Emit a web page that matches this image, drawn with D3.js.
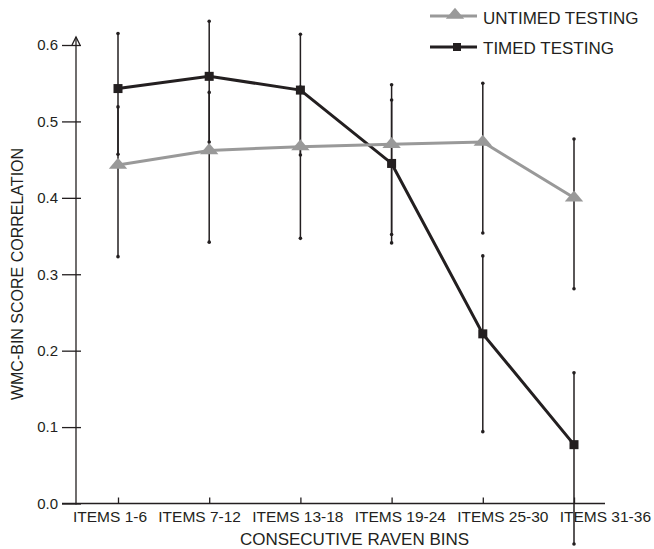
<!DOCTYPE html>
<html lang="en">
  <head>
    <meta charset="UTF-8" />
    <title>WMC-bin score correlation</title>
    <script src="https://cdn.jsdelivr.net/npm/d3@7"></script>
    <style>
      body {
        margin: 0;
        background-color: #fff;
      }
      svg {
        font-family: 'Liberation Sans', Arial, sans-serif;
        display: block;
      }
      .axis text {
        font-size: 15px;
        fill: #231f20;
      }
      .axis line,
      .axis path {
        stroke: #231f20;
        stroke-width: 1.3;
      }
    </style>
  </head>
  <body>
    <svg width="654" height="549"></svg>

    <script>
      const categories = ['ITEMS 1-6', 'ITEMS 7-12', 'ITEMS 13-18', 'ITEMS 19-24', 'ITEMS 25-30', 'ITEMS 31-36'];
      const untimed = [0.443, 0.462, 0.467, 0.47, 0.473, 0.4];
      const untimedLow = [0.323, 0.342, 0.347, 0.352, 0.354, 0.281];
      const untimedHigh = [0.519, 0.538, 0.545, 0.548, 0.55, 0.477];
      const timed = [0.543, 0.559, 0.541, 0.445, 0.222, 0.077];
      const timedLow = [0.457, 0.473, 0.456, 0.341, 0.094, -0.053];
      const timedHigh = [0.615, 0.631, 0.614, 0.528, 0.324, 0.171];
      const yTicks = [0, 0.1, 0.2, 0.3, 0.4, 0.5, 0.6];

      const svg = d3.select('svg');
      const ink = '#231f20';
      const grey = '#999999';

      const x = d3.scalePoint().domain(categories).range([118, 574]);
      const y = d3.scaleLinear().domain([0, 0.6]).range([503.5, 45]);

      // y axis
      const yAxis = svg
        .append('g')
        .attr('class', 'axis')
        .attr('transform', 'translate(76,0)')
        .call(
          d3.axisLeft(y).tickValues(yTicks).tickFormat(d3.format('.1f')).tickSizeInner(14).tickSizeOuter(0).tickPadding(4)
        );
      yAxis.select('.domain').remove();
      yAxis.selectAll('.tick line').attr('x1', 5);
      yAxis
        .append('line')
        .attr('x1', 0)
        .attr('x2', 0)
        .attr('y1', y(0) + 1)
        .attr('y2', 37);
      yAxis
        .append('path')
        .attr('d', 'M-4,45L0,37L4,45')
        .attr('fill', 'none');

      // x axis (ticks only, labels are laid out in a row below)
      const xAxis = svg
        .append('g')
        .attr('class', 'axis')
        .attr('transform', `translate(0,${y(0)})`)
        .call(d3.axisBottom(x).tickSizeInner(-6).tickSizeOuter(0).tickFormat(''));
      xAxis.select('.domain').remove();
      xAxis.append('line').attr('x1', 62).attr('x2', 605).attr('y1', 0).attr('y2', 0);

      // category labels flow left to right with a fixed gap, as in the original
      const labels = svg
        .append('g')
        .attr('font-size', 15.5)
        .attr('fill', ink)
        .selectAll('text')
        .data(categories)
        .join('text')
        .attr('y', 522)
        .text((d) => d);
      const widths = labels.nodes().map((n) => n.getComputedTextLength());
      const startX = 73;
      const endX = 651;
      const gap = (endX - startX - d3.sum(widths)) / (categories.length - 1);
      let cursor = startX;
      labels.attr('x', (d, i) => {
        const pos = cursor;
        cursor += widths[i] + gap;
        return pos;
      });

      // axis titles
      svg
        .append('text')
        .attr('x', 354.5)
        .attr('y', 545)
        .attr('text-anchor', 'middle')
        .attr('font-size', 17)
        .attr('fill', ink)
        .text('CONSECUTIVE RAVEN BINS');

      svg
        .append('text')
        .attr('transform', 'translate(23,274) rotate(-90)')
        .attr('text-anchor', 'middle')
        .attr('font-size', 16)
        .attr('fill', ink)
        .text('WMC-BIN SCORE CORRELATION');

      // error bars
      const bars = [];
      categories.forEach((c, i) => {
        bars.push({ c: c, lo: untimedLow[i], hi: untimedHigh[i] });
        bars.push({ c: c, lo: timedLow[i], hi: timedHigh[i] });
      });

      svg
        .append('g')
        .selectAll('line')
        .data(bars)
        .join('line')
        .attr('x1', (d) => x(d.c))
        .attr('x2', (d) => x(d.c))
        .attr('y1', (d) => y(d.lo))
        .attr('y2', (d) => y(d.hi))
        .attr('stroke', ink)
        .attr('stroke-width', 1.5);

      const caps = [];
      bars.forEach((b) => {
        caps.push({ c: b.c, v: b.lo });
        caps.push({ c: b.c, v: b.hi });
      });
      svg
        .append('g')
        .selectAll('circle')
        .data(caps)
        .join('circle')
        .attr('cx', (d) => x(d.c))
        .attr('cy', (d) => y(d.v))
        .attr('r', 1.8)
        .attr('fill', ink);

      // lines
      const line = d3
        .line()
        .x((d, i) => x(categories[i]))
        .y((d) => y(d));

      svg
        .append('path')
        .datum(timed)
        .attr('d', line)
        .attr('fill', 'none')
        .attr('stroke', ink)
        .attr('stroke-width', 3);

      svg
        .append('path')
        .datum(untimed)
        .attr('d', line)
        .attr('fill', 'none')
        .attr('stroke', grey)
        .attr('stroke-width', 3);

      const tri = d3.symbol().type(d3.symbolTriangle).size(70);

      svg
        .append('g')
        .selectAll('path')
        .data(untimed)
        .join('path')
        .attr('d', tri)
        .attr('transform', (d, i) => `translate(${x(categories[i])},${y(d)}) scale(1.45,1)`)
        .attr('fill', grey);

      svg
        .append('g')
        .selectAll('rect')
        .data(timed)
        .join('rect')
        .attr('x', (d, i) => x(categories[i]) - 4.5)
        .attr('y', (d) => y(d) - 4.5)
        .attr('width', 9)
        .attr('height', 9)
        .attr('fill', ink);

      // legend
      const legend = svg.append('g');
      legend
        .append('line')
        .attr('x1', 430)
        .attr('x2', 477)
        .attr('y1', 16)
        .attr('y2', 16)
        .attr('stroke', grey)
        .attr('stroke-width', 3);
      legend
        .append('path')
        .attr('d', tri)
        .attr('transform', 'translate(455,15) scale(1.45,1)')
        .attr('fill', grey);
      legend
        .append('text')
        .attr('x', 483)
        .attr('y', 24)
        .attr('font-size', 17)
        .attr('fill', ink)
        .text('UNTIMED TESTING');

      legend
        .append('line')
        .attr('x1', 430)
        .attr('x2', 477)
        .attr('y1', 47)
        .attr('y2', 47)
        .attr('stroke', ink)
        .attr('stroke-width', 3);
      legend
        .append('rect')
        .attr('x', 453)
        .attr('y', 43)
        .attr('width', 8)
        .attr('height', 8)
        .attr('fill', ink);
      legend
        .append('text')
        .attr('x', 483)
        .attr('y', 54)
        .attr('font-size', 17)
        .attr('fill', ink)
        .text('TIMED TESTING');
    </script>
  </body>
</html>
